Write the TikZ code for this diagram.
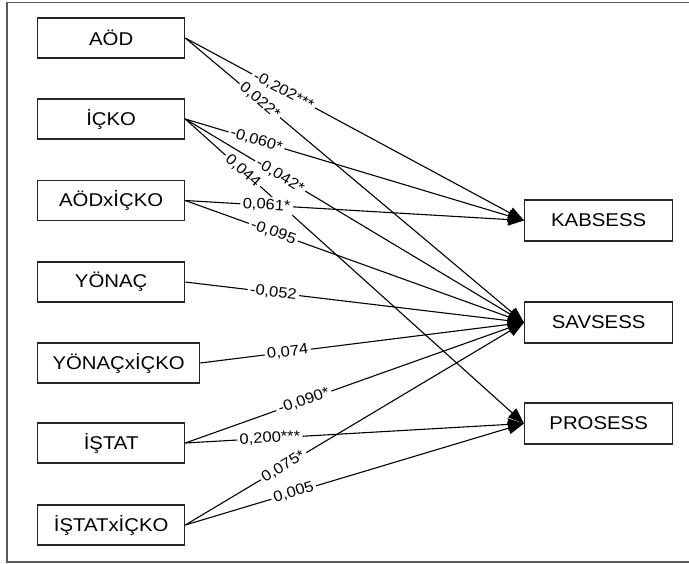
\documentclass[tikz,border=0pt]{standalone}
\usepackage{fontspec}
\setmainfont{Liberation Sans}[FakeStretch=1.1]
\usetikzlibrary{arrows.meta}
\begin{document}
\begin{tikzpicture}[x=1pt,y=-1pt,
  box/.style={draw=black!85,line width=1.3pt,fill=white,minimum height=40pt,inner sep=0pt,font=\fontsize{18.5}{20}\selectfont},
  lbox/.style={box,minimum width=147pt,anchor=west},
  rbox/.style={box,minimum width=148pt,minimum height=41pt,anchor=west},
  conn/.style={line width=1.1pt,-{Triangle[length=16pt,width=12pt]}},
  lab/.style={sloped,fill=white,inner sep=2.5pt,font=\fontsize{15}{16}\selectfont}]
\useasboundingbox (0,0) rectangle (689,563);
\draw[black!65,line width=1.5pt] (7,2.5) rectangle (690,562);
% left nodes
\node[lbox] (aod) at (37,38) {AÖD};
\node[lbox] (icko) at (37,119) {İÇKO};
\node[lbox] (aodx) at (37,200.5) {AÖDxİÇKO};
\node[lbox] (yon) at (37,282) {YÖNAÇ};
\node[lbox,minimum width=162pt] (yonx) at (37,363) {YÖNAÇxİÇKO};
\node[lbox] (ist) at (37,443) {İŞTAT};
\node[lbox] (istx) at (37,525) {İŞTATxİÇKO};
% right nodes
\node[rbox] (kab) at (524,220.5) {KABSESS};
\node[rbox] (sav) at (524,322.5) {SAVSESS};
\node[rbox] (pro) at (524,423.5) {PROSESS};
% connectors
\foreach \s/\t in {aod/kab,aod/sav,icko/kab,icko/sav,icko/pro,aodx/kab,aodx/sav,yon/sav,yonx/sav,ist/sav,ist/pro,istx/sav,istx/pro}
  \draw[conn] (\s.east) -- (\t.west);
% labels
\foreach \s/\t/\p/\l in {aod/kab/0.29/{-0,202***},aod/sav/0.22/{0,022*},icko/kab/0.21/{-0,060*},icko/sav/0.28/{-0,042*},icko/pro/0.17/{0,044},aodx/kab/0.24/{0,061*},aodx/sav/0.26/{-0,095},yon/sav/0.26/{-0,052},yonx/sav/0.27/{0,074},ist/sav/0.35/{-0,090*},ist/pro/0.25/{0,200***},istx/sav/0.29/{0,075*},istx/pro/0.32/{0,005}}
  \path (\s.east) -- node[lab,pos=\p] {\l} (\t.west);
\end{tikzpicture}
\end{document}
